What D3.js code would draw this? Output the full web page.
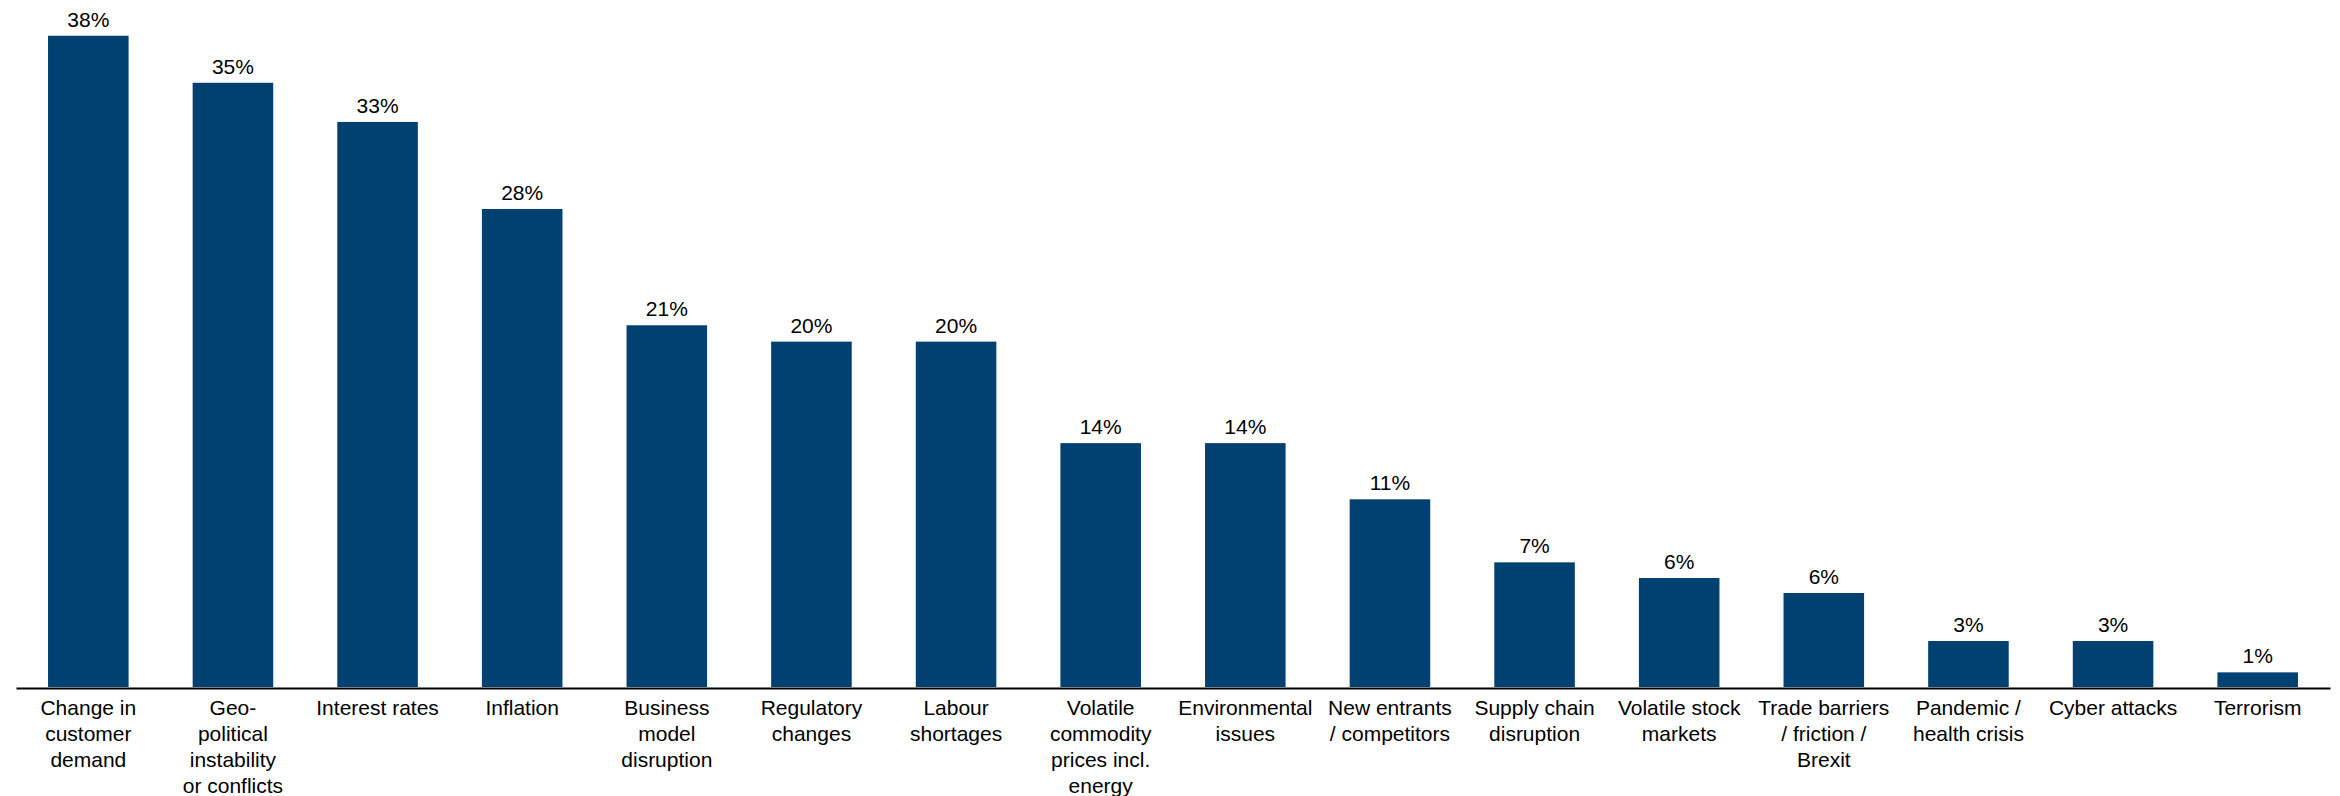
<!DOCTYPE html>
<html>
<head>
<meta charset="utf-8">
<script src="https://cdn.jsdelivr.net/npm/d3@7"></script>
<style>
  html, body { margin: 0; padding: 0; background: #fff; }
  svg text { font-family: "Liberation Sans", Arial, sans-serif; fill: #000; }
</style>
</head>
<body>
<div id="chart"></div>
<script>
// risk categories, each label already broken into lines
const categories = [
  ['Change in', 'customer', 'demand'],
  ['Geo-', 'political', 'instability', 'or conflicts'],
  ['Interest rates'],
  ['Inflation'],
  ['Business', 'model', 'disruption'],
  ['Regulatory', 'changes'],
  ['Labour', 'shortages'],
  ['Volatile', 'commodity', 'prices incl.', 'energy'],
  ['Environmental', 'issues'],
  ['New entrants', '/ competitors'],
  ['Supply chain', 'disruption'],
  ['Volatile stock', 'markets'],
  ['Trade barriers', '/ friction /', 'Brexit'],
  ['Pandemic /', 'health crisis'],
  ['Cyber attacks'],
  ['Terrorism']
];
// share of respondents, %
const values = [38.24, 35.48, 33.18, 28.07, 21.24, 20.28, 20.28, 14.32, 14.32,
                11.02, 7.32, 6.40, 5.52, 2.70, 2.70, 0.86];

const W = 2340, H = 796;
const baseY = 687;

const svg = d3.select('#chart').append('svg')
  .attr('width', W).attr('height', H);

const x = d3.scaleBand()
  .domain(d3.range(categories.length))
  .range([16, 2330])
  .paddingInner(0.443)
  .paddingOuter(0.2215);

const y = d3.scaleLinear()
  .domain([0, 40])
  .range([baseY, baseY - 40 * 17.03]);

// Bars
svg.selectAll('rect.bar').data(values).enter().append('rect')
  .attr('class', 'bar')
  .attr('x', (d, i) => x(i))
  .attr('y', d => y(d))
  .attr('width', x.bandwidth())
  .attr('height', d => baseY - y(d))
  .attr('fill', '#004172');

// Value labels
svg.selectAll('text.val').data(values).enter().append('text')
  .attr('class', 'val')
  .attr('x', (d, i) => x(i) + x.bandwidth() / 2)
  .attr('y', d => y(d) - 9)
  .attr('text-anchor', 'middle')
  .style('font-size', '21px')
  .text(d => Math.round(d) + '%');

// Axis
const axis = svg.append('g')
  .attr('transform', `translate(0,${baseY + 1})`)
  .call(d3.axisBottom(x).tickSize(0).tickFormat(''));
axis.select('.domain').attr('stroke', '#000').attr('stroke-width', 2);

// Category labels
const lbl = svg.selectAll('text.cat').data(categories).enter().append('text')
  .attr('class', 'cat')
  .attr('text-anchor', 'middle')
  .style('font-size', '21px')
  .attr('transform', (d, i) => `translate(${x(i) + x.bandwidth() / 2},715)`);
lbl.selectAll('tspan').data(d => d).enter().append('tspan')
  .attr('x', 0)
  .attr('y', (d, j) => j * 26)
  .text(d => d);
</script>
</body>
</html>
